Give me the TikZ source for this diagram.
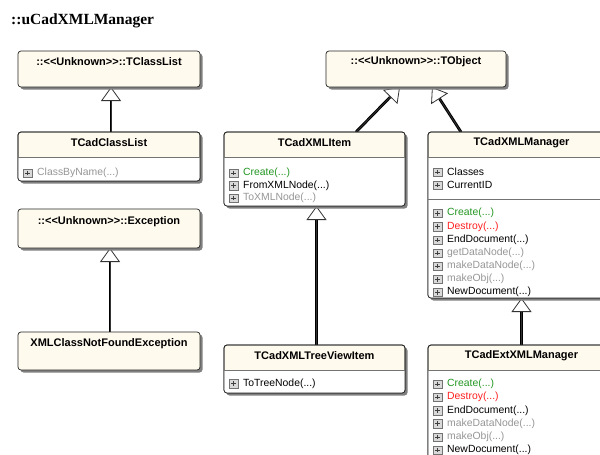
\documentclass[tikz,border=0pt]{standalone}
\usepackage{fontspec}
\setmainfont{Liberation Sans}
\newfontfamily\titlefont{Liberation Serif}
\usetikzlibrary{arrows.meta,shadows,backgrounds}

\definecolor{cream}{RGB}{255,250,238}
\definecolor{opgreen}{RGB}{34,150,34}
\definecolor{opred}{RGB}{255,30,30}
\definecolor{opgray}{RGB}{150,150,150}

\pgfdeclarelayer{paper}
\pgfsetlayers{paper,background,main}

\tikzset{
  cls/.style={draw=black!85, line width=0.7pt, rounded corners=3pt, fill=cream,
    inner sep=0pt, outer sep=0pt, anchor=north west,
    drop shadow={shadow xshift=2.5pt, shadow yshift=-2.5pt, fill=black!50, opacity=1}},
  boxline/.style={draw=black!85, line width=0.7pt, rounded corners=3pt},
  sepline/.style={draw=black!55, line width=0.7pt},
  headtxt/.style={font=\fontsize{11}{13}\selectfont\bfseries, inner sep=0pt},
  member/.style={font=\fontsize{10.4}{12}\selectfont, anchor=west, inner sep=0pt},
  icon/.style={draw=black!55, fill=black!15, line width=0.5pt, minimum size=8.5pt,
    inner sep=0pt, outer sep=0pt,
    path picture={\draw[black!75, line width=0.8pt]
      ([xshift=1.8pt]path picture bounding box.west) -- ([xshift=-1.8pt]path picture bounding box.east)
      ([yshift=-1.8pt]path picture bounding box.north) -- ([yshift=1.8pt]path picture bounding box.south);}},
  genline/.style={line width=2.8pt, draw=black, shorten >=14pt},
  genhead/.style={line width=0.8pt, draw=black!80, -{Triangle[width=20pt,length=14pt,fill=white]}},
}

% white member compartment below the header, with its separator line
\newcommand\classbody[2]{%
  \begin{scope}
    \clip[rounded corners=3pt] (#1.north west) rectangle (#1.south east);
    \fill[white] ([yshift=-#2pt]#1.north west) rectangle (#1.south east);
  \end{scope}
  \draw[boxline] (#1.north west) rectangle (#1.south east);
  \draw[sepline] ([yshift=-#2pt]#1.north west) -- ([yshift=-#2pt]#1.north east);}

% one member row: expand icon plus coloured text
\newcommand\mrow[5]{%
  \node[icon] (#1-#2i) at ([xshift=9.5pt,yshift=-#3pt]#1.north west) {};
  \node[member, text=#4] (#1-#2) at ([xshift=19pt,yshift=-#3pt]#1.north west) {#5};}

% generalisation: thick shaft plus hollow triangle head
\newcommand\genarrow[4]{%
  \draw[genline] ([xshift=#2pt]#1) -- ([xshift=#4pt]#3);
  \draw[genhead] ([xshift=#2pt]#1) -- ([xshift=#4pt]#3);}

\begin{document}
\begin{tikzpicture}[x=1pt, y=-1pt]
\useasboundingbox (0,0) rectangle (600,455);
\begin{pgfonlayer}{paper}
  \fill[white] (0,0) rectangle (600,455);
\end{pgfonlayer}
\clip (0,0) rectangle (600,455);

\node[anchor=west, inner sep=0pt, font=\titlefont\bfseries\fontsize{15.5}{17}\selectfont]
  (title) at (11,21) {::uCadXMLManager};

% ---- left column
\node[cls, minimum width=182pt, minimum height=36pt] (tclasslist) at (18,51) {};
\node[headtxt] (tclasslist-t) at ([yshift=-11pt]tclasslist.north) {::<{}<Unknown>{}>::TClassList};

\node[cls, minimum width=182pt, minimum height=49pt] (tcadclasslist) at (18,132) {};
\classbody{tcadclasslist}{25}
\node[headtxt] (tcadclasslist-t) at ([yshift=-11pt]tcadclasslist.north) {TCadClassList};
\mrow{tcadclasslist}{m1}{41}{opgray}{ClassByName(...)}

\node[cls, minimum width=182pt, minimum height=39pt] (exception) at (18,209) {};
\node[headtxt] (exception-t) at ([yshift=-12.5pt]exception.north) {::<{}<Unknown>{}>::Exception};

\node[cls, minimum width=182pt, minimum height=38pt] (xmlcnfe) at (18,332) {};
\node[headtxt] (xmlcnfe-t) at ([yshift=-12pt]xmlcnfe.north) {XMLClassNotFoundException};

% ---- middle column
\node[cls, minimum width=180pt, minimum height=36pt] (tobject) at (326,51) {};
\node[headtxt] (tobject-t) at ([yshift=-11pt]tobject.north) {::<{}<Unknown>{}>::TObject};

\node[cls, minimum width=181pt, minimum height=74pt] (xmlitem) at (224,132) {};
\classbody{xmlitem}{25}
\node[headtxt] (xmlitem-t) at ([yshift=-11pt]xmlitem.north) {TCadXMLItem};
\mrow{xmlitem}{m1}{41}{opgreen}{Create(...)}
\mrow{xmlitem}{m2}{53.5}{black}{FromXMLNode(...)}
\mrow{xmlitem}{m3}{66}{opgray}{ToXMLNode(...)}

\node[cls, minimum width=181pt, minimum height=48pt] (treeview) at (224,345) {};
\classbody{treeview}{25}
\node[headtxt] (treeview-t) at ([yshift=-11pt]treeview.north) {TCadXMLTreeViewItem};
\mrow{treeview}{m1}{38.5}{black}{ToTreeNode(...)}

% ---- right column
\node[cls, minimum width=187pt, minimum height=166pt] (mgr) at (428,132) {};
\classbody{mgr}{25}
\draw[sepline] ([yshift=-67pt]mgr.north west) -- ([yshift=-67pt]mgr.north east);
\node[headtxt] (mgr-t) at ([yshift=-11pt]mgr.north) {TCadXMLManager};
\mrow{mgr}{a1}{40}{black}{Classes}
\mrow{mgr}{a2}{53}{black}{CurrentID}
\mrow{mgr}{m1}{81.3}{opgreen}{Create(...)}
\mrow{mgr}{m2}{94.7}{opred}{Destroy(...)}
\mrow{mgr}{m3}{108}{black}{EndDocument(...)}
\mrow{mgr}{m4}{121}{opgray}{getDataNode(...)}
\mrow{mgr}{m5}{134}{opgray}{makeDataNode(...)}
\mrow{mgr}{m6}{147.3}{opgray}{makeObj(...)}
\mrow{mgr}{m7}{160.3}{black}{NewDocument(...)}

\node[cls, minimum width=187pt, minimum height=130pt] (extmgr) at (428,345) {};
\classbody{extmgr}{25}
\node[headtxt] (extmgr-t) at ([yshift=-11pt]extmgr.north) {TCadExtXMLManager};
\mrow{extmgr}{m1}{39}{opgreen}{Create(...)}
\mrow{extmgr}{m2}{52}{opred}{Destroy(...)}
\mrow{extmgr}{m3}{65.5}{black}{EndDocument(...)}
\mrow{extmgr}{m4}{78.5}{opgray}{makeDataNode(...)}
\mrow{extmgr}{m5}{92}{opgray}{makeObj(...)}
\mrow{extmgr}{m6}{105}{black}{NewDocument(...)}

% ---- generalisation arrows, behind the boxes
\begin{scope}[on background layer]
  \genarrow{tcadclasslist.north}{2}{tclasslist.south}{2}
  \genarrow{xmlcnfe.north}{1}{exception.south}{1}
  \genarrow{xmlitem.north}{41.5}{tobject.south}{-16}
  \genarrow{mgr.north west}{33}{tobject.south}{16}
  \genarrow{treeview.north}{2}{xmlitem.south}{2}
  \genarrow{extmgr.north}{0}{mgr.south}{0}
\end{scope}
\end{tikzpicture}
\end{document}
